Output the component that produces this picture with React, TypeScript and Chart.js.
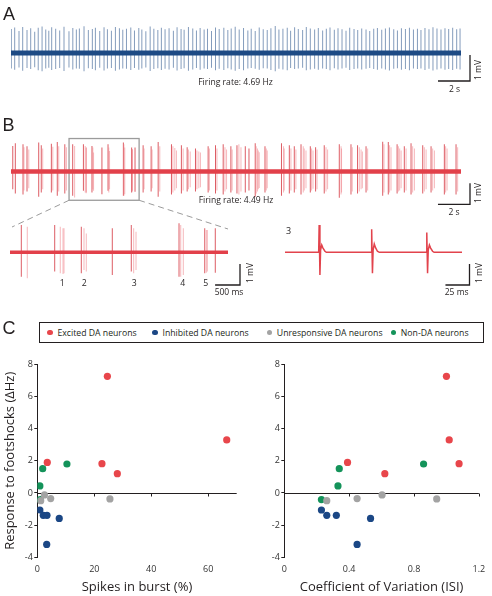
import React, { useEffect, useRef } from 'react';
import { Chart, registerables } from 'chart.js';

Chart.register(...registerables);

// ---------------- DATA ----------------
// Panel A: regular firing DA neuron. [time (s), peak (mV), trough (mV)]
const TRACE_A_SPIKES: [number, number, number][] = [
  [0.02, 0.92, 0.6], [0.23, 0.98, 0.64], [0.5, 0.85, 0.56], [0.73, 1.0, 0.68], [1.0, 0.88, 0.58],
  [1.23, 0.95, 0.62], [1.48, 0.82, 0.55], [1.7, 0.97, 0.66], [1.94, 1.02, 0.7], [2.17, 0.9, 0.6],
  [2.36, 0.86, 0.57], [2.54, 0.99, 0.65], [2.79, 0.93, 0.62], [3.04, 0.87, 0.58], [3.31, 1.01, 0.69],
  [3.62, 0.84, 0.56], [3.86, 0.96, 0.63], [4.08, 0.9, 0.6], [4.27, 0.94, 0.61], [4.56, 1.03, 0.7],
  [4.83, 0.88, 0.59], [5.08, 0.92, 0.62], [5.27, 0.97, 0.66], [5.54, 0.85, 0.57], [5.81, 0.99, 0.67],
  [6.02, 0.91, 0.6], [6.27, 0.86, 0.58], [6.52, 1.0, 0.68], [6.77, 0.95, 0.63], [6.98, 0.89, 0.6],
  [7.21, 0.93, 0.61], [7.48, 0.98, 0.65], [7.71, 0.87, 0.58], [7.98, 0.96, 0.64], [8.17, 0.9, 0.6],
  [8.42, 0.84, 0.56], [8.69, 1.02, 0.69], [8.92, 0.93, 0.62], [9.17, 0.88, 0.59], [9.39, 0.97, 0.65],
  [9.62, 0.91, 0.61], [9.87, 0.95, 0.63], [10.14, 0.86, 0.57], [10.37, 0.99, 0.67], [10.62, 0.92, 0.62],
  [10.81, 0.89, 0.59], [11.08, 1.0, 0.68], [11.35, 0.94, 0.63], [11.58, 0.87, 0.58], [11.81, 0.96, 0.64],
  [12.06, 0.9, 0.6], [12.27, 0.93, 0.62], [12.52, 0.85, 0.57], [12.77, 0.98, 0.66], [13.0, 0.92, 0.61],
  [13.29, 0.97, 0.65], [13.54, 0.88, 0.59], [13.75, 0.94, 0.63], [14.0, 1.01, 0.68],
  [14.25, 0.9, 0.62], [14.52, 0.96, 0.66], [14.79, 0.87, 0.6], [15.0, 0.93, 0.58], [15.25, 0.85, 0.61],
  [15.5, 0.98, 0.64], [15.75, 0.91, 0.59], [16.0, 0.88, 0.6], [16.23, 0.95, 0.65], [16.5, 1.04, 0.7],
  [16.73, 0.9, 0.61], [16.98, 0.93, 0.63], [17.25, 0.97, 0.66], [17.46, 0.86, 0.58], [17.71, 0.99, 0.62],
  [17.94, 0.92, 0.6], [18.21, 0.88, 0.57], [18.44, 1.0, 0.66], [18.69, 0.94, 0.63], [18.96, 0.9, 0.61],
  [19.19, 0.96, 0.64], [19.46, 0.87, 0.6], [19.69, 0.93, 0.62], [19.92, 0.98, 0.66], [20.19, 0.89, 0.59],
  [20.42, 0.95, 0.63], [20.67, 0.91, 0.6], [20.92, 0.86, 0.57], [21.15, 0.97, 0.65], [21.42, 0.92, 0.62],
  [21.65, 0.88, 0.6], [21.9, 0.94, 0.63], [22.17, 0.9, 0.61], [22.4, 0.85, 0.58], [22.65, 0.93, 0.62],
  [22.88, 0.96, 0.64], [23.15, 0.89, 0.6], [23.38, 0.94, 0.63], [23.63, 0.98, 0.67], [23.9, 0.91, 0.61],
  [24.13, 0.87, 0.59], [24.38, 0.95, 0.64], [24.63, 0.92, 0.62], [24.88, 0.97, 0.66], [25.13, 0.9, 0.6],
  [25.38, 0.93, 0.62], [25.6, 0.88, 0.6], [25.85, 0.96, 0.65], [26.1, 0.91, 0.61], [26.35, 0.99, 0.67],
  [26.6, 0.94, 0.63], [26.85, 0.9, 0.6], [27.1, 0.95, 0.64], [27.33, 0.92, 0.62], [27.58, 0.97, 0.65],
  [27.83, 0.91, 0.61], [28.04, 0.94, 0.63],
];
const TRACE_DURATION = 28.1; // s
const RATE_A = 'Firing rate: 4.69 Hz';

// Panel B: bursting DA neuron. [time (s), peak (mV), trough (mV)]
const TRACE_B_SPIKES: [number, number, number][] = [
  [0.11, 1.21, 0.85], [0.27, 1.35, 1.05],
  [0.75, 1.3, 1.1], [0.81, 1.15, 0.9], [1.0, 1.2, 0.95], [1.11, 1.05, 0.8],
  [1.73, 1.38, 1.2], [1.89, 1.25, 1.0], [1.98, 1.1, 0.85],
  [2.52, 1.32, 1.0], [2.61, 1.18, 0.9],
  [2.89, 1.4, 1.15], [2.98, 1.2, 0.95],
  [3.36, 1.3, 1.05], [3.46, 1.15, 0.9],
  [3.852, 1.3, 1.16], [3.972, 1.22, 1.24],
  [4.522, 1.3, 0.92], [4.634, 1.22, 1.0], [4.689, 1.14, 1.03], [4.709, 1.14, 1.0],
  [5.056, 1.22, 1.0], [5.11, 1.14, 0.84], [5.156, 0.9, 0.92],
  [5.678, 1.14, 1.08],
  [6.059, 1.3, 0.92], [6.107, 1.14, 1.0], [6.154, 0.98, 0.84],
  [7.017, 1.38, 1.16], [7.051, 1.3, 1.16], [7.103, 1.14, 1.08],
  [7.533, 1.14, 1.0], [7.565, 1.06, 0.97], [7.585, 1.06, 0.92],
  [7.745, 1.14, 0.97],
  [8.25, 1.25, 1.0], [8.31, 1.1, 0.85], [8.75, 1.2, 0.95], [8.81, 1.05, 0.8],
  [9.19, 1.4, 1.2], [9.29, 1.2, 0.95],
  [10.02, 1.3, 1.1], [10.11, 1.2, 1.0], [10.23, 1.12, 0.9], [10.33, 1.0, 0.8],
  [10.64, 1.25, 1.05], [10.75, 1.1, 0.9],
  [11.0, 1.15, 0.95], [11.08, 1.05, 0.85], [11.19, 0.95, 0.75],
  [11.52, 1.1, 0.95], [11.61, 1.0, 0.85], [11.73, 0.95, 0.8], [11.83, 0.9, 0.75],
  [12.31, 1.2, 1.0], [12.39, 1.1, 0.9],
  [12.77, 1.25, 1.05], [12.86, 1.1, 0.9],
  [13.25, 1.3, 1.1], [13.36, 1.15, 0.95], [13.46, 1.05, 0.85],
  [13.73, 1.2, 1.0], [13.81, 1.05, 0.9],
  [14.11, 1.25, 1.05], [14.23, 1.3, 1.1], [14.36, 1.15, 0.95],
  [14.63, 1.2, 1.0], [14.86, 1.1, 0.9],
  [15.25, 1.35, 1.2], [15.31, 1.2, 1.05], [15.39, 1.1, 0.95], [15.44, 1.0, 0.85], [15.5, 0.92, 0.78],
  [15.86, 1.2, 1.0], [15.94, 1.1, 0.9], [16.0, 1.0, 0.8],
  [16.89, 1.35, 1.15], [17.02, 1.2, 1.0], [17.06, 1.1, 0.9],
  [17.38, 1.25, 1.05], [17.48, 1.1, 0.9],
  [17.69, 1.2, 1.0], [17.79, 1.05, 0.85],
  [18.11, 1.3, 1.1], [18.25, 1.2, 1.0], [18.31, 1.1, 0.9], [18.42, 1.0, 0.8],
  [18.69, 1.2, 1.0], [18.77, 1.1, 0.9], [18.86, 1.0, 0.82],
  [19.02, 1.15, 0.95], [19.11, 1.05, 0.85],
  [19.56, 1.25, 1.05], [19.67, 1.15, 0.95], [19.77, 1.05, 0.85],
  [20.5, 1.3, 1.25], [20.61, 1.2, 1.1], [20.64, 1.1, 1.0],
  [21.23, 1.3, 1.1], [21.31, 1.15, 0.95],
  [21.64, 1.25, 1.05], [21.75, 1.15, 0.95], [21.86, 1.05, 0.85], [21.94, 0.95, 0.8],
  [22.17, 1.2, 1.0], [22.27, 1.1, 0.9],
  [23.21, 1.42, 1.15], [23.29, 1.3, 1.0],
  [23.56, 1.4, 1.1], [23.64, 1.25, 1.0], [23.73, 1.15, 0.9],
  [24.11, 1.3, 1.05], [24.19, 1.2, 0.95], [24.27, 1.1, 0.9], [24.36, 1.0, 0.8],
  [24.56, 1.2, 1.0], [24.67, 1.1, 0.9],
  [24.98, 1.35, 1.1], [25.08, 1.2, 1.0], [25.19, 1.1, 0.9],
  [25.71, 1.25, 1.05], [25.81, 1.15, 0.95], [25.92, 1.05, 0.85],
  [26.23, 1.2, 1.0], [26.33, 1.1, 0.9], [26.44, 1.0, 0.8],
  [27.06, 1.3, 1.1], [27.14, 1.2, 1.0], [27.23, 1.1, 0.9],
  [27.79, 1.3, 1.1], [27.89, 1.15, 0.95],
];
const RATE_B = 'Firing rate: 4.49 Hz';
const INSET_WINDOW: [number, number] = [3.625, 8.0]; // s
const BURST_LABELS = ['1', '2', '3', '4', '5'];
const BURST_LABEL_TIMES = [4.675, 5.116, 6.12, 7.09, 7.553]; // s

// Burst 3 expanded: [time (ms), voltage (mV)]
const BURST3_WAVE: [number, number][] = [
  [0, 0], [35.0, 0], [35.5, 1.3], [36.3, -1.08], [37.0, 0.1], [38.2, 0.35], [39.5, 0.2], [41.5, 0.05], [43, 0],
  [89.6, 0], [90.1, 1.1], [90.9, -1.0], [91.6, 0.1], [92.8, 0.4], [94.1, 0.22], [96.1, 0.05], [98, 0],
  [146.9, 0], [147.4, 0.94], [148.2, -1.0], [148.9, 0.1], [150.1, 0.35], [151.4, 0.2], [153.4, 0.05], [155, 0],
  [184, 0],
];
const BURST3_DURATION = 184; // ms

// Panel C: response to footshocks (ΔHz), spikes in burst (%), CV of ISI
const CATEGORIES = ['Excited DA neurons', 'Inhibited DA neurons', 'Unresponsive DA neurons', 'Non-DA neurons'];
const EXCITED_RESP = [1.9, 7.25, 1.82, 1.2, 3.3];
const EXCITED_BURST = [3.5, 24.6, 22.7, 28.1, 66.5];
const EXCITED_CV = [0.39, 1.0, 1.078, 0.62, 1.017];
const INHIBITED_RESP = [-1.06, -1.39, -1.39, -1.58, -3.2];
const INHIBITED_BURST = [0.9, 2.1, 3.4, 7.7, 3.3];
const INHIBITED_CV = [0.229, 0.262, 0.321, 0.532, 0.449];
const UNRESP_RESP = [-0.12, -0.48, -0.35, -0.37];
const UNRESP_BURST = [2.5, 1.2, 4.7, 25.5];
const UNRESP_CV = [0.603, 0.262, 0.449, 0.94];
const NONDA_RESP = [1.51, 1.8, 0.44, -0.41];
const NONDA_BURST = [1.9, 10.4, 0.9, 1.0];
const NONDA_CV = [0.339, 0.859, 0.331, 0.229];

const Y_TICKS_STEP = 2;
const Y_RANGE: [number, number] = [-4, 8];
const BURST_X_RANGE: [number, number] = [0, 70];
const BURST_X_STEP = 20;
const CV_X_RANGE: [number, number] = [0, 1.2];
const CV_X_STEP = 0.4;

// ---------------- STYLE ----------------
const FONT = '"Open Sans", "Noto Sans", sans-serif';
const LETTER_FONT = '"Liberation Sans", Arial, sans-serif';
const INK = '#231f20';
const RED = '#e8464b';
const BLUE = '#1b4785';
const GRAY = '#a3a3a3';
const GREEN = '#14935a';
const CAT_COLORS = [RED, BLUE, GRAY, GREEN];

// ---------------- HELPERS ----------------
function scaleBarPlugin(x0: number, y0: number, dx: number, dy: number) {
  return {
    id: 'scaleBar',
    afterDraw(chart: any) {
      const { x, y } = chart.scales;
      const ctx = chart.ctx;
      const px0 = x.getPixelForValue(x0);
      const px1 = x.getPixelForValue(x0 - dx);
      const py0 = y.getPixelForValue(y0);
      const py1 = y.getPixelForValue(y0 + dy);
      ctx.save();
      ctx.strokeStyle = INK;
      ctx.lineWidth = 1.3;
      ctx.beginPath();
      ctx.moveTo(px1, py0);
      ctx.lineTo(px0, py0);
      ctx.lineTo(px0, py1);
      ctx.stroke();
      ctx.restore();
    },
  };
}

function burstColor(spikes: [number, number, number][], i: number) {
  const light = i > 0 && spikes[i][0] - spikes[i - 1][0] < 0.15;
  return light ? 'rgba(238,125,133,0.55)' : 'rgba(212,52,62,0.8)';
}

function traceConfig(o: {
  spikes: [number, number, number][];
  xMin: number; xMax: number; yMin: number; yMax: number;
  pad: { left: number; right: number; top: number; bottom: number };
  baseColor: string; baseWidth: number;
  spikeColor: (i: number) => string;
  plugins: any[];
}) {
  const idx = o.spikes.map((s, i) => i).filter((i) => o.spikes[i][0] >= o.xMin && o.spikes[i][0] <= o.xMax);
  return {
    type: 'bar',
    data: {
      datasets: [
        {
          type: 'line',
          data: [{ x: o.xMin, y: 0 }, { x: o.xMax, y: 0 }],
          borderColor: o.baseColor,
          borderWidth: o.baseWidth,
          pointRadius: 0,
          order: 0,
        },
        {
          type: 'bar',
          data: idx.map((i) => ({ x: o.spikes[i][0], y: [-o.spikes[i][2], o.spikes[i][1]] })),
          backgroundColor: idx.map((i) => o.spikeColor(i)),
          barThickness: 1,
          inflateAmount: 0,
          borderWidth: 0,
          order: 1,
        },
      ],
    },
    options: {
      animation: false,
      responsive: false,
      maintainAspectRatio: false,
      layout: { padding: o.pad },
      plugins: { legend: { display: false }, tooltip: { enabled: false } },
      scales: {
        x: { type: 'linear', min: o.xMin, max: o.xMax, display: false, offset: false },
        y: { type: 'linear', min: o.yMin, max: o.yMax, display: false },
      },
    },
    plugins: o.plugins,
  };
}

function zeroLinePlugin() {
  return {
    id: 'zeroLine',
    beforeDatasetsDraw(chart: any) {
      const { x, y } = chart.scales;
      const ctx = chart.ctx;
      const py = Math.round(y.getPixelForValue(0)) + 0.5;
      ctx.save();
      ctx.strokeStyle = INK;
      ctx.lineWidth = 1;
      ctx.beginPath();
      ctx.moveTo(x.left, py);
      ctx.lineTo(x.right, py);
      x.ticks.forEach((t: any) => {
        if (t.value !== 0) {
          const px = Math.round(x.getPixelForValue(t.value)) + 0.5;
          ctx.moveTo(px, py);
          ctx.lineTo(px, py + 3);
        }
      });
      ctx.stroke();
      ctx.restore();
    },
  };
}

function scatterConfig(o: {
  xs: number[][]; xRange: [number, number]; xStep: number; xTitle: string;
  yTitle: string | null; yAxisWidth: number; padRight: number;
}) {
  const resp = [UNRESP_RESP, INHIBITED_RESP, EXCITED_RESP, NONDA_RESP];
  const cols = [GRAY, BLUE, RED, GREEN];
  const datasets = o.xs.map((xv, k) => ({
    label: CATEGORIES[[2, 1, 0, 3][k]],
    data: xv.map((x, i) => ({ x, y: resp[k][i] })),
    backgroundColor: cols[k],
    borderWidth: 0,
    pointRadius: 3.6,
    pointHoverRadius: 3.6,
  }));
  const step = o.xStep;
  return {
    type: 'scatter',
    data: { datasets },
    options: {
      animation: false,
      responsive: false,
      maintainAspectRatio: false,
      layout: { padding: { left: 0, right: o.padRight, top: 19.3, bottom: 0 } },
      plugins: { legend: { display: false }, tooltip: { enabled: false } },
      scales: {
        x: {
          type: 'linear',
          min: o.xRange[0],
          max: o.xRange[1],
          position: 'bottom',
          afterFit: (s: any) => { s.height = 38.7; },
          afterBuildTicks: (s: any) => {
            s.ticks = s.ticks.filter((t: any) => Math.abs(t.value / step - Math.round(t.value / step)) < 1e-6);
          },
          grid: { display: false, drawTicks: false },
          border: { display: false },
          ticks: { stepSize: step, padding: 6.8, color: '#333', font: { family: FONT, size: 9 }, maxRotation: 0 },
          title: {
            display: true, text: o.xTitle, color: INK,
            font: { family: FONT, size: 13 }, padding: { top: 0, bottom: 1.2 },
          },
        },
        y: {
          type: 'linear',
          min: Y_RANGE[0],
          max: Y_RANGE[1],
          afterFit: (s: any) => { s.width = o.yAxisWidth; },
          grid: { drawOnChartArea: false, drawTicks: true, tickLength: 3, color: INK },
          border: { display: true, color: INK, width: 1 },
          ticks: { stepSize: Y_TICKS_STEP, padding: 1.5, color: '#333', font: { family: FONT, size: 9 } },
          title: {
            display: !!o.yTitle, text: o.yTitle || '', color: INK,
            font: { family: FONT, size: 13 }, padding: { top: 2.2, bottom: 0 },
          },
        },
      },
    },
    plugins: [zeroLinePlugin()],
  };
}

function ChartBox(props: { left: number; top: number; width: number; height: number; make: () => any }) {
  const ref = useRef<HTMLCanvasElement | null>(null);
  useEffect(() => {
    const chart = new Chart(ref.current as HTMLCanvasElement, props.make());
    return () => chart.destroy();
  }, []);
  return (
    <canvas
      ref={ref}
      width={props.width}
      height={props.height}
      style={{ position: 'absolute', left: props.left, top: props.top, width: props.width, height: props.height }}
    />
  );
}

function Txt(props: { x: number; y: number; size: number; text: string; rotate?: boolean; family?: string; anchor?: 'left' | 'center' }) {
  const tx = props.anchor === 'left' ? '0' : '-50%';
  return (
    <div
      style={{
        position: 'absolute',
        left: props.x,
        top: props.y,
        transform: `translate(${tx}, -50%)${props.rotate ? ' rotate(-90deg)' : ''}`,
        transformOrigin: props.anchor === 'left' ? '0 50%' : '50% 50%',
        fontFamily: props.family || FONT,
        fontSize: props.size,
        lineHeight: 1,
        whiteSpace: 'nowrap',
        color: INK,
      }}
    >
      {props.text}
    </div>
  );
}

// inset geometry (page px)
const INSET_LEFT_PX = 10;
const INSET_WIDTH_PX = 218;

export default function App() {
  const pxPerSec = 450 / TRACE_DURATION;
  const barX = (470 - 11) / pxPerSec;

  const insetPx = INSET_WIDTH_PX / (INSET_WINDOW[1] - INSET_WINDOW[0]);

  return (
    <div style={{ position: 'absolute', left: 0, top: 0, width: 492, height: 596, background: '#fff', overflow: 'hidden' }}>
      {/* Panel A */}
      <ChartBox
        left={0} top={0} width={492} height={100}
        make={() =>
          traceConfig({
            spikes: TRACE_A_SPIKES, xMin: 0, xMax: TRACE_DURATION, yMin: -1.5, yMax: 1.5,
            pad: { left: 11, right: 31, top: 14, bottom: 8 },
            baseColor: '#1d4a84', baseWidth: 5,
            spikeColor: () => 'rgba(84,118,162,0.72)',
            plugins: [scaleBarPlugin(barX, -1.077, 2, 1)],
          })
        }
      />
      {/* Panel B */}
      <ChartBox
        left={0} top={95} width={492} height={140}
        make={() =>
          traceConfig({
            spikes: TRACE_B_SPIKES, xMin: 0, xMax: TRACE_DURATION, yMin: -2, yMax: 2,
            pad: { left: 11, right: 31, top: 34.5, bottom: 21.5 },
            baseColor: '#e2404a', baseWidth: 4.5,
            spikeColor: (i) => burstColor(TRACE_B_SPIKES, i),
            plugins: [
              scaleBarPlugin(barX, -1.562, 2, 1),
              {
                id: 'window',
                beforeDatasetsDraw(chart: any) {
                  const { x, y } = chart.scales;
                  const ctx = chart.ctx;
                  const x0 = x.getPixelForValue(INSET_WINDOW[0]);
                  const x1 = x.getPixelForValue(INSET_WINDOW[1]);
                  const yT = y.getPixelForValue(1.57);
                  const yB = y.getPixelForValue(-1.37);
                  ctx.save();
                  ctx.strokeStyle = '#9b9b9b';
                  ctx.lineWidth = 1.3;
                  ctx.strokeRect(x0, yT, x1 - x0, yB - yT);
                  ctx.setLineDash([6, 4]);
                  ctx.lineWidth = 1;
                  ctx.beginPath();
                  ctx.moveTo(x0, yB);
                  ctx.lineTo(INSET_LEFT_PX + 2, 227 - 95);
                  ctx.moveTo(x1, yB);
                  ctx.lineTo(INSET_LEFT_PX + INSET_WIDTH_PX, 229 - 95);
                  ctx.stroke();
                  ctx.restore();
                },
              },
            ],
          })
        }
      />
      {/* Inset: expanded window */}
      <ChartBox
        left={0} top={215} width={260} height={85}
        make={() =>
          traceConfig({
            spikes: TRACE_B_SPIKES, xMin: INSET_WINDOW[0], xMax: INSET_WINDOW[1], yMin: -1.6, yMax: 1.6,
            pad: { left: 10, right: 32, top: 3.7, bottom: 14.1 },
            baseColor: '#e2404a', baseWidth: 3.5,
            spikeColor: (i) => burstColor(TRACE_B_SPIKES, i),
            plugins: [scaleBarPlugin(INSET_WINDOW[0] + (240 - 10) / insetPx, -1.557, 0.5, 1)],
          })
        }
      />
      {/* Inset: burst 3 */}
      <ChartBox
        left={270} top={215} width={222} height={85}
        make={() => ({
          type: 'line',
          data: {
            datasets: [
              {
                data: BURST3_WAVE.map(([t, v]) => ({ x: t, y: v })),
                borderColor: '#e2434c',
                borderWidth: 1.5,
                pointRadius: 0,
                tension: 0,
              },
            ],
          },
          options: {
            animation: false,
            responsive: false,
            maintainAspectRatio: false,
            layout: { padding: { left: 15, right: 30, top: 3.7, bottom: 14.1 } },
            plugins: { legend: { display: false }, tooltip: { enabled: false } },
            scales: {
              x: { type: 'linear', min: 0, max: BURST3_DURATION, display: false },
              y: { type: 'linear', min: -1.6, max: 1.6, display: false },
            },
          },
          plugins: [scaleBarPlugin((469.5 - 285) / (177 / BURST3_DURATION), -1.557, 25, 1)],
        })}
      />

      {/* Panel C scatter plots */}
      <ChartBox
        left={0} top={345} width={245} height={251}
        make={() =>
          scatterConfig({
            xs: [UNRESP_BURST, INHIBITED_BURST, EXCITED_BURST, NONDA_BURST],
            xRange: BURST_X_RANGE, xStep: BURST_X_STEP, xTitle: 'Spikes in burst (%)',
            yTitle: 'Response to footshocks (ΔHz)', yAxisWidth: 37.3, padRight: 8.3,
          })
        }
      />
      <ChartBox
        left={245} top={345} width={247} height={251}
        make={() =>
          scatterConfig({
            xs: [UNRESP_CV, INHIBITED_CV, EXCITED_CV, NONDA_CV],
            xRange: CV_X_RANGE, xStep: CV_X_STEP, xTitle: 'Coefficient of Variation (ISI)',
            yTitle: null, yAxisWidth: 39.3, padRight: 8,
          })
        }
      />

      {/* Panel letters */}
      <Txt x={9} y={14} size={18} text="A" family={LETTER_FONT} />
      <Txt x={8.5} y={125} size={18} text="B" family={LETTER_FONT} />
      <Txt x={9} y={328.3} size={18} text="C" family={LETTER_FONT} />

      {/* Trace annotations */}
      <Txt x={235.5} y={81.5} size={8.6} text={RATE_A} />
      <Txt x={454.5} y={89} size={8.5} text="2 s" />
      <Txt x={477.5} y={70} size={8.5} text="1 mV" rotate />
      <Txt x={236} y={200} size={8.6} text={RATE_B} />
      <Txt x={454} y={211.7} size={8.5} text="2 s" />
      <Txt x={477.5} y={193.3} size={8.5} text="1 mV" rotate />
      <Txt x={229} y={292} size={8.5} text="500 ms" />
      <Txt x={250} y={273.3} size={8.5} text="1 mV" rotate />
      <Txt x={456.7} y={292} size={8.5} text="25 ms" />
      <Txt x={478.5} y={273.3} size={8.5} text="1 mV" rotate />
      <Txt x={288.5} y={229.5} size={9} text="3" />
      {BURST_LABELS.map((l, i) => (
        <Txt key={l} x={INSET_LEFT_PX + (BURST_LABEL_TIMES[i] - INSET_WINDOW[0]) * insetPx} y={282.7} size={8.7} text={l} />
      ))}

      {/* Legend */}
      <div
        style={{
          position: 'absolute', left: 38.5, top: 321.7, width: 445.5, height: 21.6,
          border: `1px solid ${INK}`, boxSizing: 'border-box',
        }}
      />
      {CATEGORIES.map((c, i) => {
        const dotX = [50, 155, 269.3, 393.3][i];
        return (
          <React.Fragment key={c}>
            <div
              style={{
                position: 'absolute', left: dotX - 2.8, top: 332.5 - 2.8, width: 5.6, height: 5.6,
                borderRadius: '50%', background: CAT_COLORS[i],
              }}
            />
            <Txt x={dotX + 7.5} y={332.5} size={8.7} text={c} anchor="left" />
          </React.Fragment>
        );
      })}
    </div>
  );
}
